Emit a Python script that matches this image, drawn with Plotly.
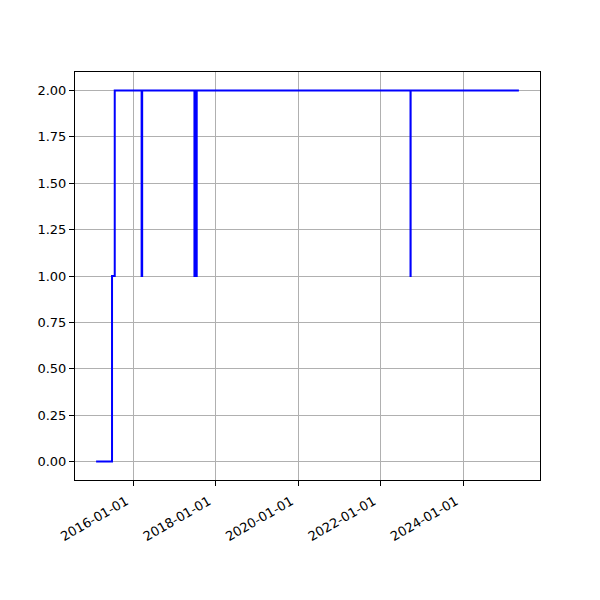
import plotly.graph_objects as go

dates = [
    "2015-02-07", "2015-06-28", "2015-07-22",
    "2016-03-16", "2016-03-17", "2016-03-20", "2016-03-21",
    "2017-06-27", "2017-06-28", "2017-07-02", "2017-07-03",
    "2017-07-10", "2017-07-11", "2017-07-16", "2017-07-17",
    "2022-09-23", "2022-09-24",
    "2025-05-10",
]
values = [
    0, 1, 2,
    1, 2, 1, 2,
    1, 2, 1, 2,
    1, 2, 1, 2,
    1, 2,
    2,
]
x_ticks = ["2016-01-01", "2018-01-01", "2020-01-01", "2022-01-01", "2024-01-01"]
y_ticks = [0.0, 0.25, 0.5, 0.75, 1.0, 1.25, 1.5, 1.75, 2.0]

fig = go.Figure()
fig.add_trace(go.Scatter(
    x=dates, y=values, mode="lines",
    line=dict(color="blue", width=2, shape="hv"),
    showlegend=False,
))

fig.update_layout(
    width=600, height=600,
    margin=dict(l=67, r=68, t=64, b=128),
    paper_bgcolor="white", plot_bgcolor="white",
    font=dict(family="DejaVu Sans", size=13, color="black"),
)
fig.update_xaxes(
    type="date",
    range=["2014-08-04", "2025-11-13"],
    tickvals=x_ticks, ticktext=x_ticks,
    tickangle=-30,
    ticklabelshift=-7,
    ticklabelstandoff=3,
    automargin=False,
    showgrid=True, gridcolor="#b0b0b0", gridwidth=0.8,
    showline=True, linecolor="black", linewidth=1, mirror=True,
    ticks="outside", ticklen=5, tickcolor="black",
    zeroline=False,
)
fig.update_yaxes(
    range=[-0.1, 2.1],
    tickvals=y_ticks, ticktext=[f"{v:.2f}" for v in y_ticks],
    automargin=False,
    showgrid=True, gridcolor="#b0b0b0", gridwidth=0.8,
    showline=True, linecolor="black", linewidth=1, mirror=True,
    ticks="outside", ticklen=5, tickcolor="black",
    zeroline=False,
)

fig.write_html("out.html")
